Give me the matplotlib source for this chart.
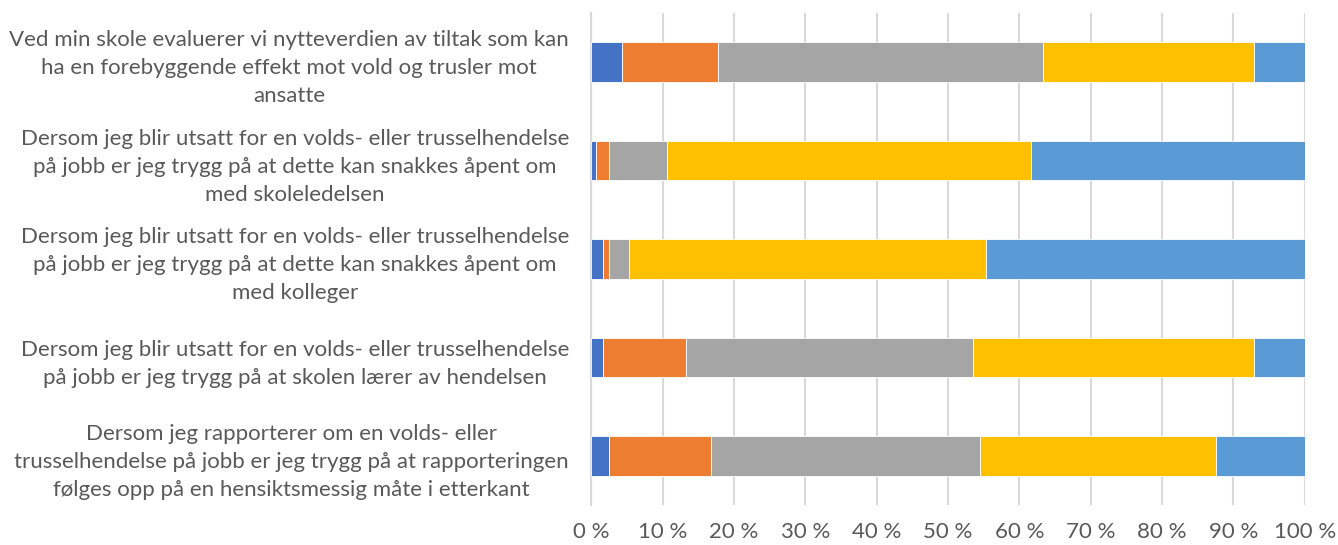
import numpy as np
import matplotlib.pyplot as plt
import matplotlib.transforms as mtransforms
from matplotlib.ticker import FuncFormatter

plt.rcParams['font.family'] = ['Lato', 'DejaVu Sans']

# Survey statements, top to bottom
questions = [
    'Ved min skole evaluerer vi nytteverdien av tiltak som kan\nha en forebyggende effekt mot vold og trusler mot\nansatte',
    'Dersom jeg blir utsatt for en volds- eller trusselhendelse\npå jobb er jeg trygg på at dette kan snakkes åpent om\nmed skoleledelsen',
    'Dersom jeg blir utsatt for en volds- eller trusselhendelse\npå jobb er jeg trygg på at dette kan snakkes åpent om\nmed kolleger',
    'Dersom jeg blir utsatt for en volds- eller trusselhendelse\npå jobb er jeg trygg på at skolen lærer av hendelsen',
    'Dersom jeg rapporterer om en volds- eller\ntrusselhendelse på jobb er jeg trygg på at rapporteringen\nfølges opp på en hensiktsmessig måte i etterkant',
]

# Share of answers (%) per response level, one list per level
level1 = [4.35, 0.70, 1.64, 1.68, 2.52]
level2 = [13.40, 1.80, 0.86, 11.59, 14.30]
level3 = [45.60, 8.15, 2.74, 40.27, 37.66]
level4 = [29.55, 50.95, 50.12, 39.36, 33.12]
level5 = [7.10, 38.40, 44.64, 7.10, 12.40]

levels = [level1, level2, level3, level4, level5]
colors = ['#4472C4', '#ED7D31', '#A5A5A5', '#FFC000', '#5B9BD5']

fig = plt.figure(figsize=(13.38, 5.45), dpi=100)
ax = fig.add_axes([0.4419, 0.0729, 0.5333, 0.9037])

y = np.arange(len(questions))
left = np.zeros(len(questions))
for vals, col in zip(levels, colors):
    vals = np.array(vals)
    ax.barh(y, vals, left=left, height=0.4, color=col,
            edgecolor='white', linewidth=0.6, zorder=3)
    left += vals

ax.set_xlim(0, 100)
ax.set_ylim(len(questions) - 0.5, -0.5)
ax.set_xticks(np.arange(0, 101, 10))
ax.xaxis.set_major_formatter(FuncFormatter(lambda v, p: '%d %%' % v))
ax.set_yticks(y)
ax.set_yticklabels(questions, multialignment='center', fontsize=16,
                   linespacing=1.5)

# the two-line label sits a bit lower than its bar
lbl = ax.get_yticklabels()[3]
lbl.set_transform(lbl.get_transform() +
                  mtransforms.ScaledTranslation(0, -0.16, fig.dpi_scale_trans))

ax.grid(axis='x', color='#D9D9D9', linewidth=1.5, zorder=0)
for s in ['top', 'right', 'bottom']:
    ax.spines[s].set_visible(False)
ax.spines['left'].set_color('#D9D9D9')
ax.spines['left'].set_linewidth(1.5)

ax.tick_params(axis='both', length=0, labelcolor='#595959')
ax.tick_params(axis='x', labelsize=16, pad=12)
ax.tick_params(axis='y', pad=16)

fig.savefig('out.png', dpi=100)
